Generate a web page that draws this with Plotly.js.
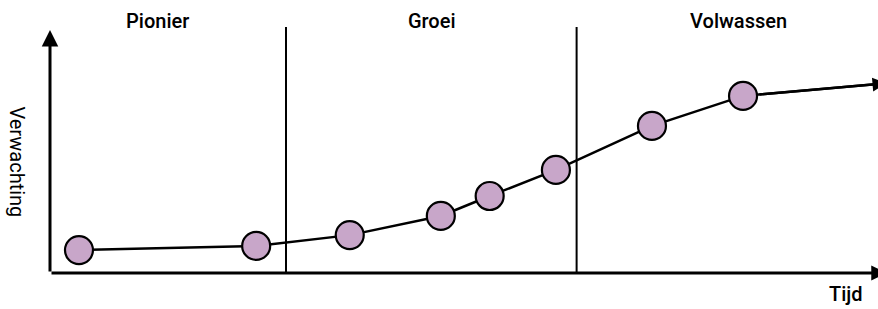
<!DOCTYPE html>
<html>
<head>
<meta charset="utf-8">
<script src="https://cdn.plot.ly/plotly-3.0.1.min.js"></script>
<style>html,body{margin:0;padding:0;background:#fff}#chart{width:878px;height:309px}</style>
</head>
<body>
<div id="chart"></div>
<script>
// Data (time 0-100, expectation 0-100)
var pointTime = [3.5, 24.9, 36.2, 47.2, 53.1, 61.1, 72.7, 83.7];
var pointExpectation = [9.3, 11.0, 15.4, 23.2, 31.3, 41.9, 59.8, 72.0];
var endTime = 101;
var endExpectation = 77.1;
var phaseBoundaries = [28.5, 63.6];
var phaseNames = ["Pionier", "Groei", "Volwassen"];
var phaseLabelTime = [13.0, 46.1, 83.1];
var xTitle = "Tijd";
var yTitle = "Verwachting";

var font = "'Roboto Medium', Roboto, 'Open Sans', sans-serif";
var fontReg = "Roboto, 'Open Sans', sans-serif";

var traces = [
  {
    x: pointTime.concat([endTime]),
    y: pointExpectation.concat([endExpectation]),
    mode: "lines",
    line: {color: "#000", width: 2.5},
    hoverinfo: "skip",
    showlegend: false,
    cliponaxis: false
  },
  {
    x: pointTime,
    y: pointExpectation,
    mode: "markers",
    marker: {size: 28, color: "#C8A6C9", line: {color: "#000", width: 2.2}},
    showlegend: false,
    cliponaxis: false
  }
];

var shapes = phaseBoundaries.map(function (b) {
  return {type: "line", xref: "x", yref: "y", x0: b, x1: b, y0: 0, y1: 100,
          line: {color: "#000", width: 2}};
});

var annotations = [];
phaseNames.forEach(function (n, i) {
  annotations.push({text: n, x: phaseLabelTime[i], xref: "x", y: 1.025, yref: "paper",
    showarrow: false, xanchor: "center", yanchor: "middle",
    font: {family: font, size: 20, color: "#000", weight: 500}});
});
// y axis with arrow
annotations.push({x: 0, y: 98.8, ax: 0, ay: 0, xref: "x", yref: "y", axref: "x", ayref: "y",
  text: "", showarrow: true, arrowhead: 2, arrowwidth: 3, arrowsize: 1.1, arrowcolor: "#000", standoff: 0});
// x axis with arrow
annotations.push({x: 101, y: 0, ax: 0, ay: 0, xref: "x", yref: "y", axref: "x", ayref: "y",
  text: "", showarrow: true, arrowhead: 2, arrowwidth: 3, arrowsize: 1.0, arrowcolor: "#000", standoff: 0});
// end arrow of the curve
annotations.push({x: endTime, y: endExpectation, ax: pointTime[pointTime.length - 1], ay: pointExpectation[pointExpectation.length - 1],
  xref: "x", yref: "y", axref: "x", ayref: "y",
  text: "", showarrow: true, arrowhead: 2, arrowwidth: 2.5, arrowsize: 1.1, arrowcolor: "#000",
  standoff: 0, startstandoff: 15});
// axis titles
annotations.push({text: yTitle, x: -0.04, xref: "paper", xanchor: "center", y: 0.45, yref: "paper", yanchor: "middle",
  textangle: 90, showarrow: false, font: {family: fontReg, size: 20, color: "#000"}});
annotations.push({text: xTitle, x: 0.961, xref: "paper", xanchor: "center", y: -0.085, yref: "paper", yanchor: "middle",
  showarrow: false, font: {family: font, size: 20, color: "#000", weight: 500}});

var layout = {
  width: 878, height: 309,
  margin: {l: 50, r: 0, t: 27, b: 36},
  paper_bgcolor: "#fff", plot_bgcolor: "#fff",
  xaxis: {range: [0, 100], showgrid: false, zeroline: false, showline: false, showticklabels: false, ticks: ""},
  yaxis: {range: [0, 100], showgrid: false, zeroline: false, showline: false, showticklabels: false, ticks: ""},
  shapes: shapes,
  annotations: annotations,
  showlegend: false
};

Plotly.newPlot("chart", traces, layout, {displayModeBar: false, staticPlot: true});
</script>
</body>
</html>
